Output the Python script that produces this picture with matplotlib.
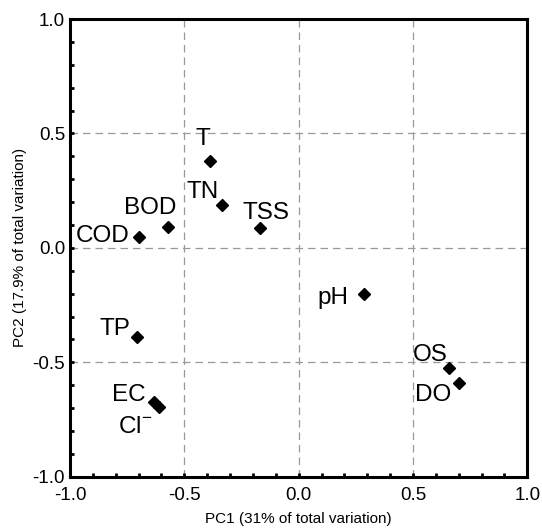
import matplotlib
matplotlib.use("Agg")
import matplotlib.pyplot as plt
from matplotlib.ticker import MultipleLocator

plt.rcParams['font.family'] = ['Liberation Sans', 'DejaVu Sans']
plt.rcParams['mathtext.fontset'] = 'custom'
plt.rcParams['mathtext.rm'] = 'Liberation Sans'
plt.rcParams['mathtext.default'] = 'regular'

# loadings
labels = ['T', 'TN', 'TSS', 'BOD', 'COD', 'pH', 'TP', 'EC', r'Cl$^{-}$', 'OS', 'DO']
pc1 = [-0.387, -0.334, -0.168, -0.570, -0.697, 0.286, -0.705, -0.631, -0.609, 0.657, 0.700]
pc2 = [0.378, 0.187, 0.087, 0.090, 0.048, -0.200, -0.391, -0.674, -0.696, -0.526, -0.591]
# label offsets (pixels) from each marker
offsets = [(-7, 22), (-20, 13), (6, 15), (-18, 19), (-37, 1), (-31, -4),
           (-22, 8), (-26, 7), (-24, -20), (-19, 13), (-26, -12)]

fig = plt.figure(figsize=(5.42, 5.28), dpi=100)
ax = fig.add_axes([0.129, 0.097, 0.844, 0.867])

ax.plot(pc1, pc2, 'D', color='black', markersize=6.5, linestyle='none', zorder=3)
for lab, x, y, off in zip(labels, pc1, pc2, offsets):
    ax.annotate(lab, (x, y), xytext=off, textcoords='offset pixels',
                ha='center', va='center', fontsize=17.5)

ax.set_xlim(-1, 1)
ax.set_ylim(-1, 1)
ax.xaxis.set_major_locator(MultipleLocator(0.5))
ax.yaxis.set_major_locator(MultipleLocator(0.5))
ax.xaxis.set_minor_locator(MultipleLocator(0.1))
ax.yaxis.set_minor_locator(MultipleLocator(0.1))
ax.xaxis.set_major_formatter(lambda v, p: f'{v:.1f}')
ax.yaxis.set_major_formatter(lambda v, p: f'{v:.1f}')
ax.tick_params(which='both', direction='in', length=3, width=2, labelsize=13.5,
               top=False, right=False)
ax.tick_params(axis='x', which='major', pad=7)
ax.grid(True, which='major', color='#999999', linestyle=(0, (6, 4)), linewidth=0.9)
for s in ax.spines.values():
    s.set_linewidth(2.2)

ax.set_xlabel('PC1 (31% of total variation)', fontsize=11, labelpad=6)
ax.set_ylabel('PC2 (17.9% of total variation)', fontsize=11, labelpad=4)

fig.savefig('out.png', dpi=100)
